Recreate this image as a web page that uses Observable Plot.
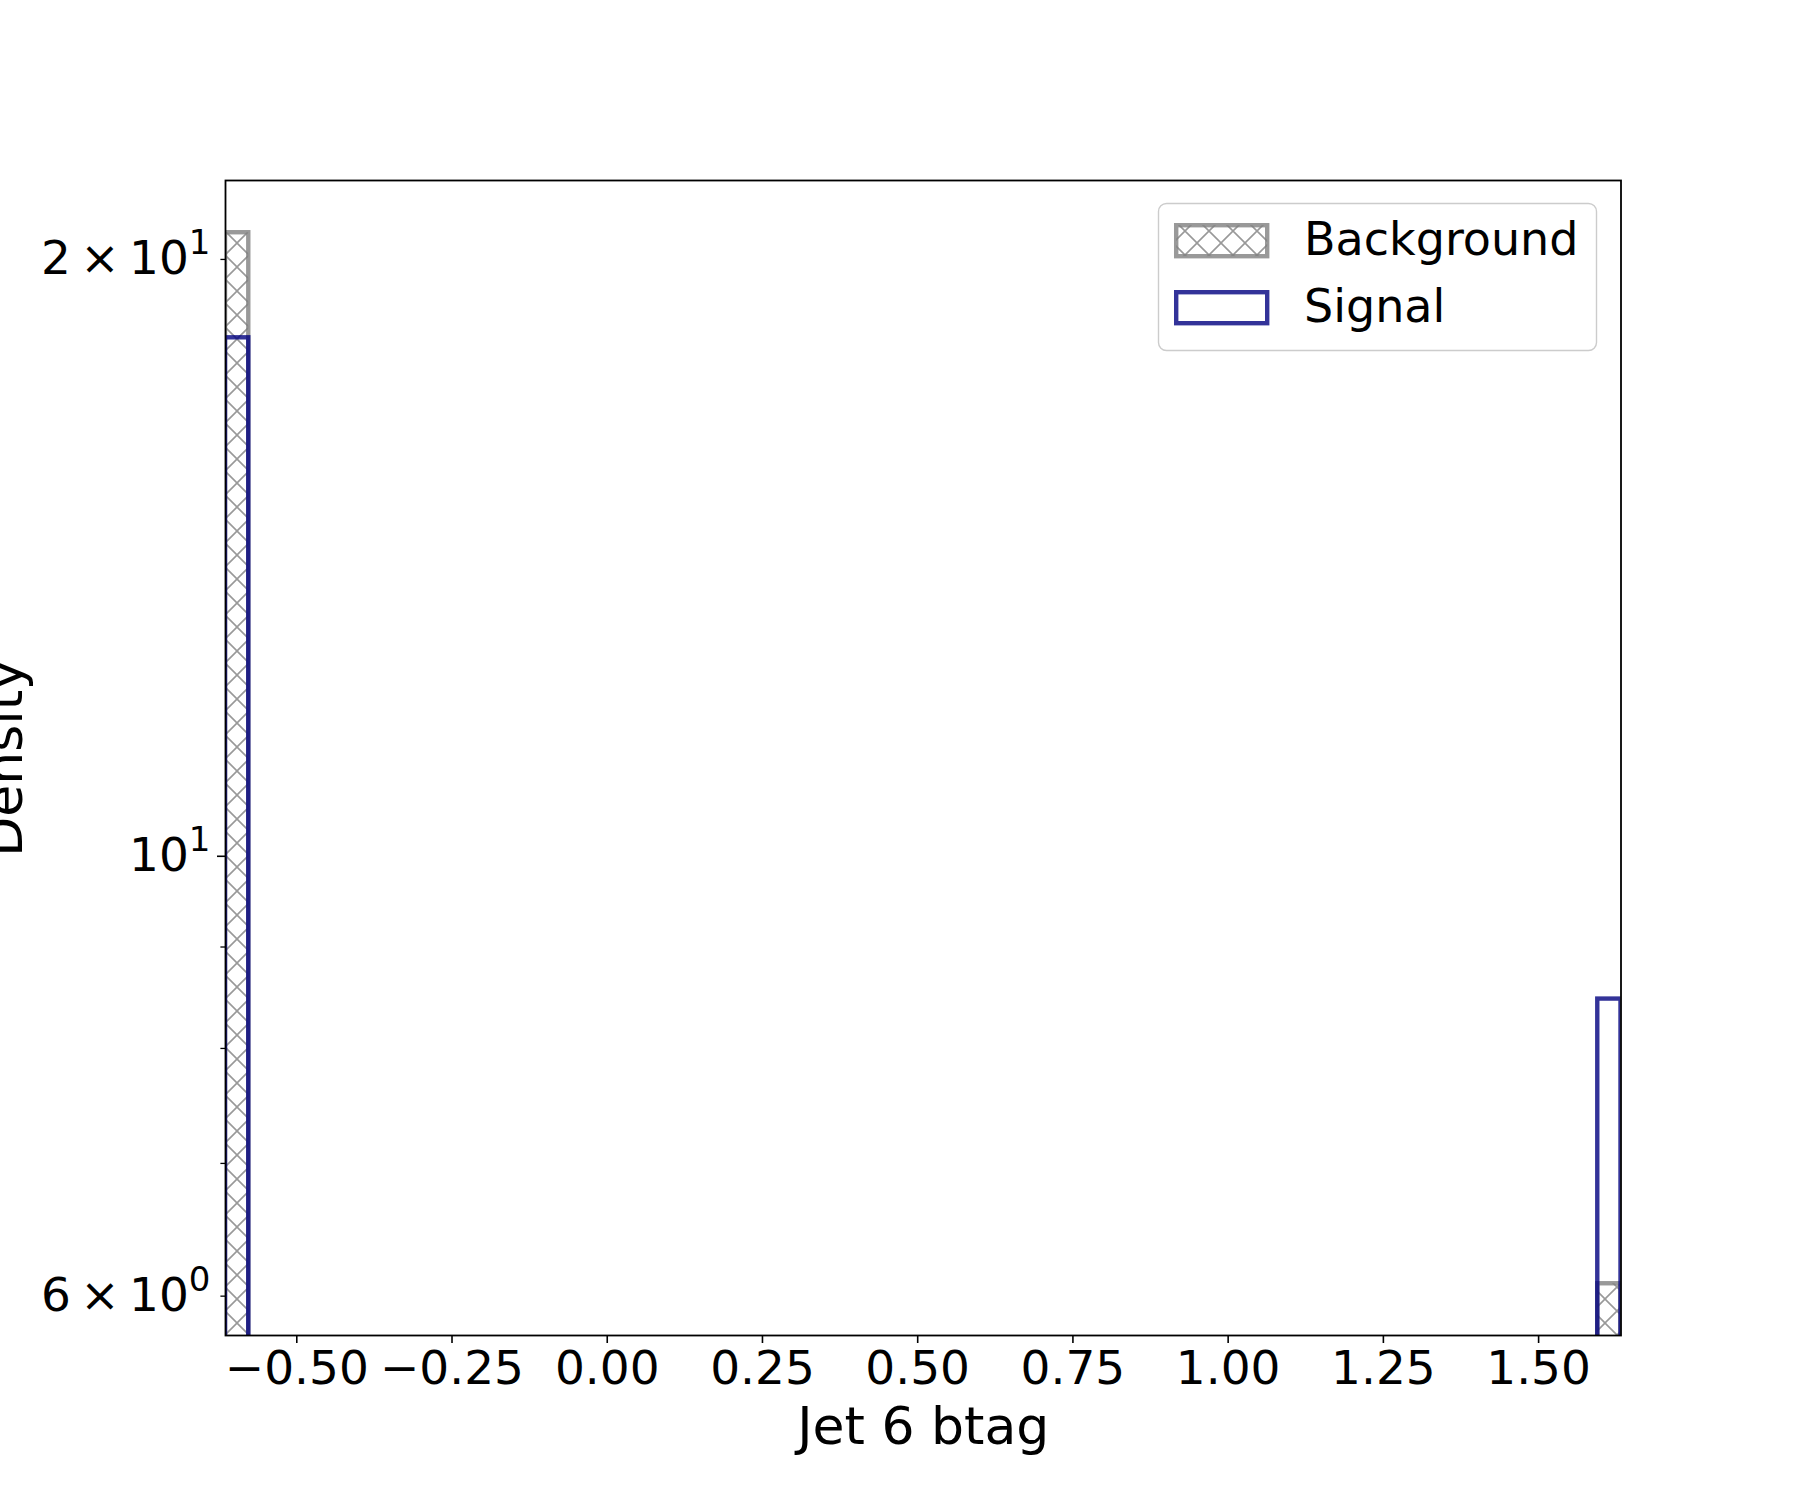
<!DOCTYPE html>
<html>
<head>
<meta charset="utf-8">
<script src="https://cdn.jsdelivr.net/npm/d3@7"></script>
<script src="https://cdn.jsdelivr.net/npm/@observablehq/plot@0.6"></script>
<style>
  html, body { margin: 0; padding: 0; background: #ffffff; }
  #chart { width: 1801px; height: 1500px; }
</style>
</head>
<body>
<div id="chart"></div>
<script>
// ---- data (density histogram, 60 bins, only two non-empty) ----
const binLow = [-0.6148, 1.5953];
const binHigh = [-0.5773, 1.6327];
const background = [20.63, 6.087];
const signal = [18.26, 8.472];
const seriesNames = ["Background", "Signal"];

const xTicks = [-0.5, -0.25, 0, 0.25, 0.5, 0.75, 1.0, 1.25, 1.5];
const yMajorTicks = [10];
const yMinorTicks = [6, 7, 8, 9, 20];
const yLabelTicks = [6, 10, 20];
const yLabelText = ["6\u2009×\u200910|0", "10|1", "2\u2009×\u200910|1"];

const xDomain = [-0.6148, 1.6327];
const yDomain = [5.732, 21.92];

const baseValue = 5.5;
const bars = binLow.map((lo, i) => ({lo, hi: binHigh[i], bg: background[i], sig: signal[i], base: baseValue}));

const FONT = "DejaVu Sans";
const gray = "#808080";
const blue = "#000080";
const HATCH = 24;

const plot = Plot.plot({
  width: 1801,
  height: 1500,
  marginLeft: 225,
  marginRight: 180.5,
  marginTop: 180,
  marginBottom: 165,
  style: {fontFamily: FONT, color: "black", background: "white", overflow: "visible"},
  x: {type: "linear", domain: xDomain},
  y: {type: "log", domain: yDomain},
  marks: [
    Plot.rect(bars, {x1: "lo", x2: "hi", y1: "base", y2: "bg", fill: "url(#hatchX)", stroke: gray, strokeOpacity: 0.8, strokeWidth: 4.4, clip: true}),
    Plot.rect(bars, {x1: "lo", x2: "hi", y1: "base", y2: "sig", fill: "none", stroke: blue, strokeOpacity: 0.8, strokeWidth: 4.4, clip: true}),
    Plot.axisX({ticks: xTicks, tickSize: 8, tickPadding: 7, strokeWidth: 1.6, fontSize: 47, label: null,
      tickFormat: d => (d < 0 ? "\u2212" : "") + Math.abs(d).toFixed(2)}),
    Plot.axisY({ticks: yMajorTicks, tickSize: 8, strokeWidth: 1.6, tickFormat: () => "", label: null}),
    Plot.axisY({ticks: yMinorTicks, tickSize: 4.6, strokeWidth: 1.3, tickFormat: () => "", label: null}),
    Plot.axisY({ticks: yLabelTicks, tickSize: 0, tickPadding: 15, fontSize: 47, label: null,
      tickFormat: d => yLabelText[yLabelTicks.indexOf(d)]}),
    Plot.frame({stroke: "black", strokeWidth: 1.8}),
    Plot.text(["Jet 6 btag"], {frameAnchor: "bottom", lineAnchor: "bottom", textAnchor: "middle", dy: 108, fontSize: 52, fill: "black"}),
    Plot.text(["Density"], {frameAnchor: "left", lineAnchor: "bottom", textAnchor: "middle", rotate: -90, dx: -204, fontSize: 52, fill: "black"})
  ]
});

document.getElementById("chart").appendChild(plot);

const svg = d3.select(plot);

// hatch pattern (matplotlib "x" hatch look)
const defs = svg.insert("defs", ":first-child");
const pat = defs.append("pattern")
  .attr("id", "hatchX")
  .attr("patternUnits", "userSpaceOnUse")
  .attr("width", HATCH).attr("height", HATCH)
  .attr("patternTransform", "translate(21,3)");
pat.append("rect").attr("width", HATCH).attr("height", HATCH).attr("fill", "white");
pat.append("path")
  .attr("d", `M-2,-2L${HATCH + 2},${HATCH + 2}M${HATCH + 2},-2L-2,${HATCH + 2}`)
  .attr("stroke", gray).attr("stroke-opacity", 0.8).attr("stroke-width", 1.6).attr("fill", "none");

// superscripts for log tick labels
svg.selectAll("text").each(function() {
  const t = d3.select(this);
  const target = t.selectAll("tspan").size() ? t.select("tspan") : t;
  const s = target.text();
  if (s.includes("|")) {
    const [main, sup] = s.split("|");
    target.text("");
    target.append("tspan").text(main);
    target.append("tspan").attr("font-size", 34).attr("dy", -20).text(sup);
  }
});

// legend (inside the axes, upper right)
const lg = svg.append("g").attr("font-family", FONT).attr("font-size", 46).attr("text-anchor", "start");
lg.append("rect").attr("x", 1158.5).attr("y", 203.5).attr("width", 438).attr("height", 147)
  .attr("rx", 8).attr("fill", "white").attr("fill-opacity", 0.8)
  .attr("stroke", "#cccccc").attr("stroke-width", 1.4);
lg.append("rect").attr("x", 1176.2).attr("y", 225.2).attr("width", 91).attr("height", 31)
  .attr("fill", "url(#hatchX)").attr("stroke", gray).attr("stroke-opacity", 0.8).attr("stroke-width", 4.4);
lg.append("rect").attr("x", 1176.2).attr("y", 292.2).attr("width", 91).attr("height", 31)
  .attr("fill", "none").attr("stroke", blue).attr("stroke-opacity", 0.8).attr("stroke-width", 4.4);
lg.append("text").attr("x", 1304).attr("y", 255).attr("fill", "black").attr("text-anchor", "start").text(seriesNames[0]);
lg.append("text").attr("x", 1304).attr("y", 322).attr("fill", "black").attr("text-anchor", "start").text(seriesNames[1]);
</script>
</body>
</html>
